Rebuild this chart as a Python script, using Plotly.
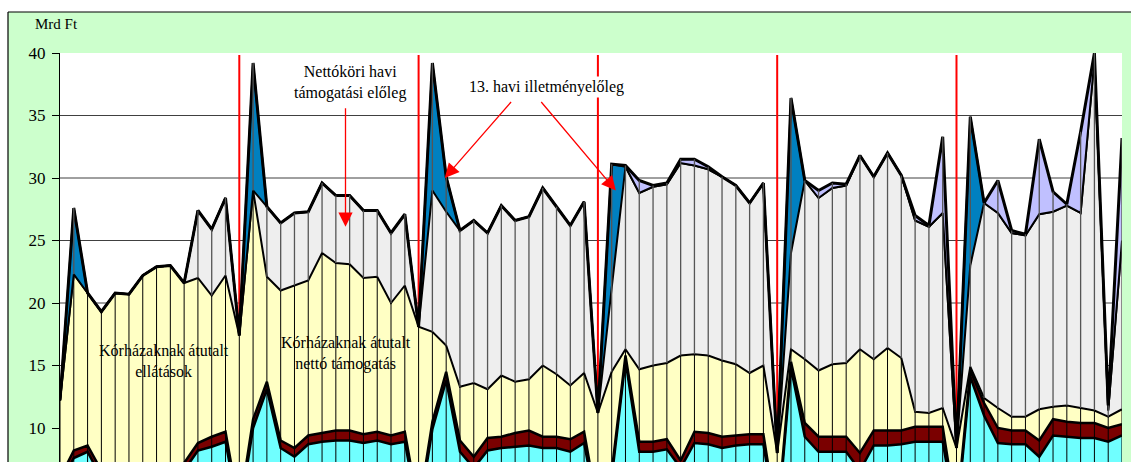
import numpy as np
import plotly.graph_objects as go

# ---- data (monthly values, Mrd Ft) ----
months = list(range(78))
year_start_idx = [13, 26, 39, 52, 65]

cyan_s = [5.5, 7.6, 8.1, 6.0, 5.8, 5.9, 6.1, 6.2, 6.4, 6.6, 8.2, 8.5, 8.9,
          3.0, 10.0, 13.1, 8.4, 7.7, 8.7, 8.9, 9.0, 9.0, 8.8, 9.0, 8.7, 8.9,
          3.0, 9.9, 13.8, 8.1, 6.8, 8.2, 8.4, 8.5, 8.6, 8.4, 8.4, 8.1, 8.8,
          3.0, 6.0, 15.4, 8.1, 8.1, 8.3, 6.8, 8.8, 8.7, 8.4, 8.6, 8.7, 8.7,
          2.0, 14.8, 9.3, 8.1, 8.1, 8.1, 6.6, 8.6, 8.6, 8.7, 8.9, 8.9, 8.9,
          2.5, 14.1, 11.0, 8.8, 8.7, 8.7, 7.7, 9.4, 9.3, 9.2, 9.2, 8.9, 9.4]
maroon_s = [0.5, 0.6, 0.5, 0.6, 0.6, 0.6, 0.6, 0.6, 0.6, 0.6, 0.6, 0.8, 0.8,
            0.5, 0.7, 0.6, 0.6, 0.7, 0.7, 0.7, 0.8, 0.8, 0.7, 0.7, 0.7, 0.8,
            0.5, 0.6, 0.7, 0.9, 0.9, 1.0, 0.9, 1.1, 1.2, 0.9, 0.9, 1.0, 0.9,
            0.5, 0.5, 0.4, 0.8, 0.8, 0.8, 0.6, 0.9, 0.9, 0.9, 0.8, 0.8, 0.8,
            0.5, 0.5, 1.1, 1.2, 1.2, 1.2, 1.4, 1.2, 1.2, 1.1, 1.2, 1.2, 1.2,
            0.5, 0.5, 1.0, 1.2, 1.1, 1.1, 1.3, 1.3, 1.2, 1.2, 1.2, 1.1, 0.9]
yellow_s = [6.2, 14.1, 12.2, 12.7, 14.4, 14.2, 15.5, 16.1, 16.0, 14.4, 13.2, 11.3, 12.5,
            13.9, 18.3, 8.4, 12.0, 13.0, 12.4, 14.4, 13.4, 13.3, 12.5, 12.4, 10.6, 11.7,
            14.6, 7.2, 2.1, 4.3, 5.9, 3.9, 4.9, 4.1, 4.1, 5.7, 5.0, 4.3, 4.7,
            7.7, 8.0, 0.5, 5.8, 6.1, 6.1, 8.4, 6.2, 6.2, 6.1, 5.7, 4.9, 5.5,
            5.5, 1.0, 5.1, 5.3, 5.8, 5.9, 8.3, 5.7, 6.6, 5.8, 1.2, 1.1, 1.5,
            5.4, 0.3, 0.4, 1.6, 1.1, 1.1, 2.5, 1.0, 1.3, 1.2, 1.0, 0.9, 1.2]
gray_s = [0, 0, 0, 0, 0, 0, 0, 0, 0, 0, 5.4, 5.3, 6.2,
          0, 0, 5.6, 5.4, 5.8, 5.5, 5.6, 5.4, 5.5, 5.4, 5.3, 5.6, 5.7,
          0, 11.3, 10.7, 12.5, 13.0, 12.5, 13.6, 12.9, 13.0, 14.2, 13.4, 12.8, 13.7,
          0, 6.7, 14.6, 14.1, 14.3, 14.3, 15.4, 15.1, 14.9, 14.7, 14.3, 13.6, 14.6,
          0, 7.7, 14.3, 13.8, 14.1, 14.2, 15.5, 14.6, 15.6, 14.6, 15.3, 14.9, 15.6,
          0, 8.1, 15.6, 15.6, 14.7, 14.5, 15.6, 15.6, 16.0, 15.6, 28.1, 0.5, 13.5]
blue_s = [0, 5.3, 0, 0, 0, 0, 0, 0, 0, 0, 0, 0, 0,
          0, 10.2, 0, 0, 0, 0, 0, 0, 0, 0, 0, 0, 0,
          0, 10.2, 2.8, 0, 0, 0, 0, 0, 0, 0, 0, 0, 0,
          0, 9.9, 0, 0, 0, 0, 0, 0, 0, 0, 0, 0, 0,
          0, 12.4, 0, 0, 0, 0, 0, 0, 0, 0, 0, 0, 0,
          0, 11.9, 0, 0, 0, 0, 0, 0, 0, 0, 0, 0, 0]
lav_s = [0, 0, 0, 0, 0, 0, 0, 0, 0, 0, 0, 0, 0,
         0, 0, 0, 0, 0, 0, 0, 0, 0, 0, 0, 0, 0,
         0, 0, 0, 0, 0, 0, 0, 0, 0, 0, 0, 0, 0,
         0, 0, 0.1, 1.0, 0.1, 0.1, 0.3, 0.5, 0.2, 0, 0, 0, 0,
         0, 0, 0, 0.6, 0.4, 0.1, 0, 0, 0, 0, 0.4, 0.1, 6.1,
         0, 0, 0, 2.6, 0.2, 0.1, 6.0, 1.6, 0.1, 6.5, 0.5, 0.4, 8.2]

y_ticks = [10, 15, 20, 25, 30, 35, 40]

FONT = "Liberation Serif"

fig = go.Figure()

series = [
    (cyan_s, "#70FFFF", 2.5),
    (maroon_s, "#7A0000", 2.5),
    (yellow_s, "#FFFFC4", 2),
    (gray_s, "#EEEEEE", 2),
    (blue_s, "#0080C0", 2),
    (lav_s, "#C0C0FF", 3),
]
for vals, col, lw in series:
    fig.add_trace(go.Scatter(x=months, y=vals, mode="lines", stackgroup="s",
                             line=dict(color="black", width=lw, shape="linear"),
                             fillcolor=col, showlegend=False, hoverinfo="skip"))

# drop lines at every month
stack = np.cumsum(np.vstack([cyan_s, maroon_s, yellow_s, gray_s, blue_s, lav_s]), axis=0)
ytop = stack[2]
total = stack[5]
xs_lo, ys_lo, xs_hi, ys_hi = [], [], [], []
for i in months:
    xs_lo += [i, i, None]
    ys_lo += [0, ytop[i], None]
    xs_hi += [i, i, None]
    ys_hi += [ytop[i], total[i], None]
fig.add_trace(go.Scatter(x=xs_lo, y=ys_lo, mode="lines",
                         line=dict(color="black", width=1), showlegend=False,
                         hoverinfo="skip"))
fig.add_trace(go.Scatter(x=xs_hi, y=ys_hi, mode="lines",
                         line=dict(color="#555555", width=1.3), showlegend=False,
                         hoverinfo="skip"))

W, H = 1131, 462
ML, MR, MT, MB = 60, 9, 53, 0
pw, ph = W - ML - MR, H - MT - MB


def px_x(p):
    return (p - ML) / pw


def px_y(p):
    return (H - MB - p) / ph


shapes = []
# gridlines (behind areas)
for t in y_ticks[:-1]:
    shapes.append(dict(type="line", xref="paper", yref="y", x0=0, x1=1, y0=t, y1=t,
                       line=dict(color="#404040", width=1), layer="below"))
# red year separators
for k in year_start_idx:
    shapes.append(dict(type="line", xref="x", yref="paper", x0=k, x1=k, y0=0, y1=0.995,
                       line=dict(color="#FF0000", width=2), layer="below"))
# white outside the green frame
shapes.append(dict(type="rect", xref="paper", yref="paper", x0=px_x(-5), x1=px_x(W + 5),
                   y0=px_y(12), y1=px_y(-5), fillcolor="white", line=dict(width=0),
                   layer="above"))
shapes.append(dict(type="rect", xref="paper", yref="paper", x0=px_x(-5), x1=px_x(8),
                   y0=px_y(H + 5), y1=px_y(-5), fillcolor="white", line=dict(width=0),
                   layer="above"))
# frame border
shapes.append(dict(type="line", xref="paper", yref="paper", x0=px_x(8), x1=px_x(W + 5),
                   y0=px_y(12), y1=px_y(12), line=dict(color="black", width=1.2),
                   layer="above"))
shapes.append(dict(type="line", xref="paper", yref="paper", x0=px_x(8), x1=px_x(8),
                   y0=px_y(12), y1=px_y(H + 5), line=dict(color="black", width=1.2),
                   layer="above"))

tf = dict(family=FONT, size=16, color="black")
annotations = [
    dict(text="Mrd Ft", xref="paper", yref="paper", x=px_x(33), y=px_y(24),
         xanchor="left", yanchor="middle", showarrow=False,
         font=dict(family=FONT, size=15, color="black")),
    dict(text="Nettóköri havi<br>támogatási előleg", x=21.0, y=37.64, xref="x", yref="y",
         showarrow=False, font=tf, align="center"),
    dict(text="13. havi illetményelőleg", x=35.3, y=37.3, xref="x", yref="y",
         showarrow=False, font=tf, bgcolor="white"),
    dict(text="Kórházaknak átutalt<br>ellátások", x=7.57, y=15.35, xref="x", yref="y",
         showarrow=False, font=tf, align="center"),
    dict(text="Kórházaknak átutalt<br>nettó támogatás", x=20.7, y=16.0, xref="x", yref="y",
         showarrow=False, font=tf, align="center"),
]
arrow_common = dict(text="", showarrow=True, arrowhead=2, arrowsize=2.2, arrowwidth=1.3,
                    arrowcolor="#FF0000", xref="x", yref="y", axref="x", ayref="y")
annotations.append(dict(x=20.7, y=26.1, ax=20.7, ay=35.7, **arrow_common))
annotations.append(dict(x=27.9, y=30.0, ax=32.8, ay=36.2, **arrow_common))
annotations.append(dict(x=40.3, y=29.0, ax=34.8, ay=36.2, **arrow_common))

fig.update_layout(
    width=W, height=H,
    margin=dict(l=ML, r=MR, t=MT, b=MB, pad=0),
    paper_bgcolor="#CCFFCC", plot_bgcolor="white",
    shapes=shapes, annotations=annotations,
    xaxis=dict(range=[0, 77], showgrid=False, zeroline=False, showticklabels=False,
               showline=False, ticks=""),
    yaxis=dict(range=[40 - (H - MT) / 12.5, 40], tickvals=y_ticks, ticks="outside",
               ticklen=7, tickcolor="black", showline=True, linecolor="black",
               linewidth=1, showgrid=False, zeroline=False,
               tickfont=dict(family=FONT, size=17, color="black"),
               ticklabelstandoff=3),
)

fig.write_html("out.html", config={"displayModeBar": False},
               post_script="document.body.style.margin='0';"
                           "document.body.style.overflow='hidden';")
